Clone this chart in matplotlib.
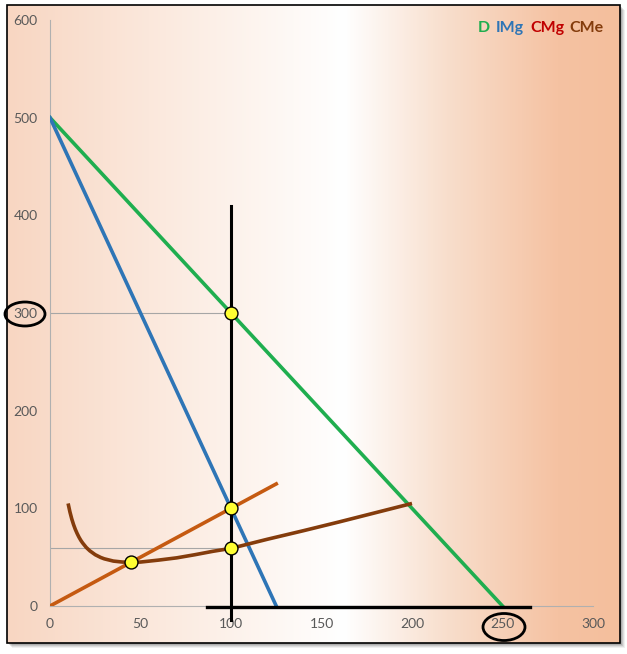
import numpy as np
import matplotlib.pyplot as plt
from matplotlib.patches import Ellipse, Rectangle
from matplotlib.colors import LinearSegmentedColormap

# --- datos ---
d_q = [0, 250]
d_p = [500, 0]

img_q = [0, 125]
img_p = [500, 0]

cmg_q = [0, 125]
cmg_p = [0, 125]

cme_q = [10, 11, 12, 13, 14, 15, 16, 17, 18, 20, 22, 25, 28, 30, 35, 40,
         45, 50, 60, 70, 80, 90, 100, 120, 140, 160, 180, 200]
cme_p = [105, 96.4, 89.3, 83.4, 78.4, 74.2, 70.5, 67.3, 64.6, 60, 56.5,
         52.5, 49.7, 48.3, 46, 45, 44.7, 45, 47, 49.3, 52.5, 56, 59,
         68.3, 77.1, 86.2, 95.6, 105]

puntos_q = [100, 100, 100, 45]
puntos_p = [300, 100, 59, 45]

q_opt = 100
p_opt = 300
cme_opt = 59

x_ticks = [0, 50, 100, 150, 200, 250, 300]
y_ticks = [0, 100, 200, 300, 400, 500, 600]

W, H = 627, 654
fig = plt.figure(figsize=(W / 100, H / 100), dpi=100)
fig.patch.set_facecolor('white')

# fondo degradado + marco
bg = fig.add_axes([0, 0, 1, 1], zorder=-10)
bg.set_xlim(0, W)
bg.set_ylim(H, 0)
bg.axis('off')
for k, a in [(5, 0.06), (4, 0.08), (3, 0.1), (2, 0.12)]:
    bg.add_patch(Rectangle((7 + k, 5 + k), 613, 638, facecolor='black',
                           edgecolor='none', alpha=a, zorder=1))
stops = [(0.0, (248/255, 214/255, 194/255)),
         (0.23, (251/255, 232/255, 220/255)),
         (0.55, (1, 1, 1)),
         (0.72, (248/255, 222/255, 204/255)),
         (0.90, (245/255, 194/255, 162/255)),
         (1.0, (244/255, 191/255, 157/255))]
cmap = LinearSegmentedColormap.from_list('fondo', stops)
grad = np.linspace(0, 1, 600).reshape(1, -1)
bg.imshow(grad, cmap=cmap, aspect='auto', extent=(7, 620, 643, 5),
          interpolation='bilinear', zorder=2)
bg.add_patch(Rectangle((7, 5), 613, 638, facecolor='none',
                       edgecolor='black', linewidth=1.2, zorder=3))

ax = fig.add_axes([50 / W, 1 - 606 / H, 543 / W, 586 / H])
ax.patch.set_alpha(0)
ax.set_xlim(0, 300)
ax.set_ylim(0, 600)
for s in ['top', 'right']:
    ax.spines[s].set_visible(False)
for s in ['left', 'bottom']:
    ax.spines[s].set_color('#b0b0b0')
    ax.spines[s].set_linewidth(0.8)
ax.set_xticks(x_ticks)
ax.set_yticks(y_ticks)
ax.tick_params(length=0, labelsize=10, labelcolor='#595959', pad=9)
for lab in ax.get_xticklabels() + ax.get_yticklabels():
    lab.set_fontfamily('Lato')

# líneas guía grises
ax.plot([0, q_opt], [p_opt, p_opt], color='#a6a6a6', linewidth=0.8, zorder=1)
ax.plot([0, q_opt], [cme_opt, cme_opt], color='#a6a6a6', linewidth=0.8, zorder=1)

ax.plot(d_q, d_p, color='#1fae4f', linewidth=2.6, zorder=3)
ax.plot(img_q, img_p, color='#2e75b6', linewidth=2.6, zorder=3)
ax.plot(cmg_q, cmg_p, color='#c55a11', linewidth=2.6, zorder=3)
ax.plot(cme_q, cme_p, color='#843c0c', linewidth=2.6, zorder=3,
        solid_capstyle='butt', solid_joinstyle='round')

# líneas negras
ax.plot([q_opt, q_opt], [-14, 410], color='black', linewidth=2.2,
        zorder=4, clip_on=False)
ax.plot([87, 265], [-1, -1], color='black', linewidth=2.4,
        zorder=4, clip_on=False)

ax.plot(puntos_q, puntos_p, linestyle='none', marker='o', markersize=9.3,
        markerfacecolor='#ffff33', markeredgecolor='black',
        markeredgewidth=1.0, zorder=5)

# elipses sobre las etiquetas
bg.add_patch(Ellipse((25, 314), 40, 24, facecolor='none', edgecolor='black',
                     linewidth=2, zorder=4))
bg.add_patch(Ellipse((504, 627), 42, 27, facecolor='none', edgecolor='black',
                     linewidth=2, zorder=4))

# leyenda de texto
leyenda = [('D', '#1fae4f', 478), ('IMg', '#2e75b6', 496),
           ('CMg', '#c00000', 530), ('CMe', '#843c0c', 569)]
for txt, col, px in leyenda:
    fig.text(px / W, 1 - 28 / H, txt, color=col, fontsize=11.5,
             fontweight='bold', fontfamily='Lato', va='center', ha='left')

fig.savefig('out.png', dpi=100)
